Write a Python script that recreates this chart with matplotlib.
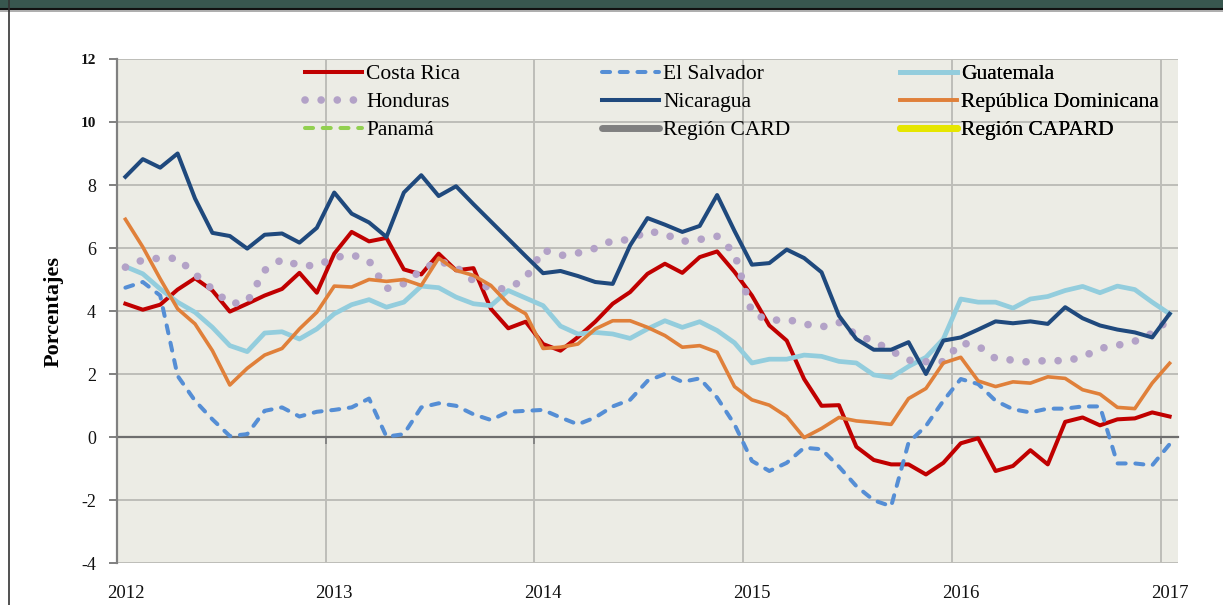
import matplotlib
matplotlib.use("Agg")
import matplotlib.pyplot as plt
from matplotlib.lines import Line2D
import numpy as np

# ---------------- data (monthly, Jan 2012 .. Jan 2017) ----------------
year_labels = ["2012", "2013", "2014", "2015", "2016", "2017"]

costa_rica = [4.24, 4.05, 4.21, 4.69, 5.05, 4.66, 3.99, 4.24, 4.50, 4.71, 5.22, 4.59,
              5.83, 6.52, 6.22, 6.33, 5.33, 5.17, 5.83, 5.30, 5.37, 4.08, 3.46, 3.67,
              2.96, 2.75, 3.18, 3.67, 4.24, 4.61, 5.19, 5.51, 5.22, 5.72, 5.90, 5.25,
              4.50, 3.55, 3.07, 1.85, 1.00, 1.02, -0.30, -0.72, -0.86, -0.86, -1.18, -0.81,
              -0.19, -0.03, -1.07, -0.91, -0.41, -0.86, 0.49, 0.63, 0.38, 0.57, 0.60, 0.79,
              0.66]
el_salvador = [4.75, 4.93, 4.50, 1.95, 1.16, 0.57, 0.04, 0.10, 0.84, 0.95, 0.66, 0.81,
               0.87, 0.95, 1.23, 0.02, 0.10, 0.95, 1.08, 1.00, 0.73, 0.55, 0.81, 0.84,
               0.87, 0.63, 0.41, 0.63, 0.98, 1.19, 1.79, 2.01, 1.76, 1.87, 1.26, 0.41,
               -0.75, -1.07, -0.81, -0.33, -0.38, -0.93, -1.55, -2.00, -2.19, -0.17, 0.36, 1.16,
               1.85, 1.69, 1.16, 0.89, 0.79, 0.91, 0.91, 0.98, 0.98, -0.83, -0.83, -0.89,
               -0.22]
guatemala = [5.42, 5.19, 4.71, 4.29, 3.97, 3.49, 2.91, 2.72, 3.31, 3.35, 3.12, 3.44,
             3.92, 4.21, 4.37, 4.13, 4.29, 4.80, 4.75, 4.45, 4.24, 4.18, 4.66, 4.42,
             4.18, 3.53, 3.28, 3.33, 3.28, 3.14, 3.44, 3.70, 3.49, 3.67, 3.39, 3.00,
             2.36, 2.48, 2.48, 2.61, 2.57, 2.41, 2.36, 1.98, 1.90, 2.25, 2.54, 3.12,
             4.39, 4.29, 4.29, 4.10, 4.39, 4.47, 4.66, 4.79, 4.59, 4.80, 4.69, 4.29,
             3.92]
honduras = [5.40, 5.63, 5.69, 5.68, 5.18, 4.70, 4.24, 4.30, 5.30, 5.65, 5.45, 5.45,
            5.70, 5.80, 5.60, 4.72, 4.88, 5.30, 5.60, 5.40, 4.97, 4.71, 4.72, 5.05,
            5.95, 5.77, 5.85, 6.00, 6.25, 6.27, 6.55, 6.45, 6.22, 6.28, 6.38, 5.85,
            3.95, 3.70, 3.75, 3.60, 3.50, 3.65, 3.25, 3.05, 2.75, 2.45, 2.40, 2.40,
            3.00, 2.90, 2.50, 2.45, 2.38, 2.45, 2.42, 2.55, 2.82, 2.92, 3.05, 3.30,
            3.75]
nicaragua = [8.27, 8.83, 8.56, 9.01, 7.58, 6.49, 6.39, 5.99, 6.43, 6.47, 6.18, 6.65,
             7.77, 7.10, 6.82, 6.36, 7.77, 8.32, 7.66, 7.97, 7.40, 6.85, 6.30, 5.75,
             5.21, 5.28, 5.12, 4.93, 4.87, 6.09, 6.96, 6.75, 6.52, 6.71, 7.69, 6.55,
             5.48, 5.53, 5.96, 5.69, 5.24, 3.86, 3.12, 2.78, 2.78, 3.02, 2.01, 3.07,
             3.17, 3.42, 3.68, 3.62, 3.68, 3.60, 4.13, 3.78, 3.55, 3.42, 3.33, 3.17,
             3.92]
rep_dominicana = [6.92, 6.04, 5.03, 4.08, 3.60, 2.75, 1.66, 2.19, 2.61, 2.82, 3.44, 3.97,
                  4.80, 4.77, 5.01, 4.95, 5.01, 4.82, 5.69, 5.30, 5.14, 4.82, 4.24, 3.92,
                  2.82, 2.86, 2.96, 3.44, 3.70, 3.70, 3.49, 3.23, 2.86, 2.91, 2.70, 1.61,
                  1.19, 1.02, 0.66, -0.01, 0.28, 0.63, 0.52, 0.47, 0.41, 1.23, 1.55, 2.36,
                  2.54, 1.79, 1.61, 1.76, 1.72, 1.92, 1.87, 1.51, 1.37, 0.95, 0.91, 1.72,
                  2.35]
panama = []
region_card = []
region_capard = []

y_ticks = [-4, -2, 0, 2, 4, 6, 8, 10, 12]

# ---------------- figure ----------------
SERIF = ["Liberation Serif", "DejaVu Serif"]
plt.rcParams["font.family"] = SERIF

fig = plt.figure(figsize=(12.23, 6.05), dpi=100)
fig.patch.set_facecolor("white")

# header band + page frame
fig.add_artist(plt.Rectangle((0, 1 - 8 / 605), 1, 8 / 605, transform=fig.transFigure,
                             facecolor="#38574F", edgecolor="none"))
fig.add_artist(Line2D([0, 1], [1 - 9 / 605, 1 - 9 / 605], transform=fig.transFigure,
                      color="#111111", lw=1.5))
fig.add_artist(Line2D([0, 1], [1 - 11 / 605, 1 - 11 / 605], transform=fig.transFigure,
                      color="#A0A0A0", lw=1.2))
fig.add_artist(Line2D([8.5 / 1223, 8.5 / 1223], [0, 1], transform=fig.transFigure,
                      color="#333333", lw=1.2))

ax = fig.add_axes([116.7 / 1223, 1 - 563.3 / 605, (1178.3 - 116.7) / 1223, 504 / 605])
ax.set_facecolor("#ECECE5")

n = len(costa_rica)
x = np.arange(n)

ax.plot(x, costa_rica, color="#C00000", lw=2.9, label="Costa Rica", zorder=3)
ax.plot(x, el_salvador, color="#558ED5", lw=2.9, ls=(0, (2.0, 2.4)), dash_capstyle="round",
        label="El Salvador", zorder=3)
ax.plot(x, guatemala, color="#93CDDD", lw=3.4, label="Guatemala", zorder=3)
ax.plot(x, honduras, color="#B3A2C7", lw=5.5, ls=(0, (0.01, 2.1)), dash_capstyle="round",
        label="Honduras", zorder=3)
ax.plot(x, nicaragua, color="#1F497D", lw=2.9, label="Nicaragua", zorder=3)
ax.plot(x, rep_dominicana, color="#E0803A", lw=2.6, label="República Dominicana", zorder=3)
ax.plot(panama, panama, color="#92D050", lw=2.9, ls=(0, (2.0, 2.4)), dash_capstyle="round",
        label="Panamá")
ax.plot(region_card, region_card, color="#808080", lw=5, solid_capstyle="round", label="Región CARD")
ax.plot(region_capard, region_capard, color="#E6E600", lw=5, solid_capstyle="round",
        label="Región CAPARD")

ax.set_xlim(-0.5, n - 0.5)
ax.set_ylim(-4, 12)

# y axis
ax.set_yticks(y_ticks)
ax.set_yticklabels([str(v) for v in y_ticks])
ax.tick_params(axis="y", direction="out", length=6, width=1.4, color="#808080",
               pad=9, labelsize=13, labelcolor="#111111")
for lab in ax.get_yticklabels():
    if lab.get_text() in ("12", "10"):
        lab.set_fontweight("bold")
        lab.set_fontsize(11)
ax.yaxis.grid(True, color="#BDBDB8", lw=1.4, zorder=1)
ax.set_axisbelow(True)
ax.set_ylabel("Porcentajes", fontsize=16, fontweight="bold", labelpad=12)

# x axis: zero line with year boundary ticks, labels at bottom
ax.spines["bottom"].set_position(("data", 0))
ax.spines["bottom"].set_color("#6E6E6E")
ax.spines["bottom"].set_linewidth(1.6)
ax.spines["bottom"].set_zorder(2)
ax.spines["top"].set_visible(False)
ax.spines["right"].set_visible(False)
ax.spines["left"].set_color("#808080")
ax.spines["left"].set_linewidth(1.6)

year_pos = np.arange(0, n, 12)
ax.set_xticks(year_pos)
ax.set_xticklabels(year_labels)
ax.tick_params(axis="x", which="major", length=0, pad=106, labelsize=13.5, labelcolor="#111111")
ax.set_xticks(np.arange(-0.5, n, 12), minor=True)
ax.tick_params(axis="x", which="minor", direction="out", length=5, width=1.3, color="#808080")
ax.xaxis.grid(True, which="minor", color="#BDBDB8", lw=1.4, zorder=1)
ax.xaxis.grid(False, which="major")

# legend: three columns
handles, labels = ax.get_legend_handles_labels()
order = {lab: h for h, lab in zip(handles, labels)}
cols = [["Costa Rica", "Honduras", "Panamá"],
        ["El Salvador", "Nicaragua", "Región CARD"],
        ["Guatemala", "República Dominicana", "Región CAPARD"]]
col_x = [(305 - 116.7) / 1061.6, (602 - 116.7) / 1061.6, (900 - 116.7) / 1061.6]
for cx, names in zip(col_x, cols):
    leg = ax.legend([order[k] for k in names], names, loc="upper left",
                    bbox_to_anchor=(cx, 0.99), frameon=False, fontsize=15.5,
                    handlelength=2.65, handletextpad=0.2, borderpad=0, borderaxespad=0,
                    labelspacing=0.36)
    ax.add_artist(leg)

fig.savefig("out.png", dpi=100)
